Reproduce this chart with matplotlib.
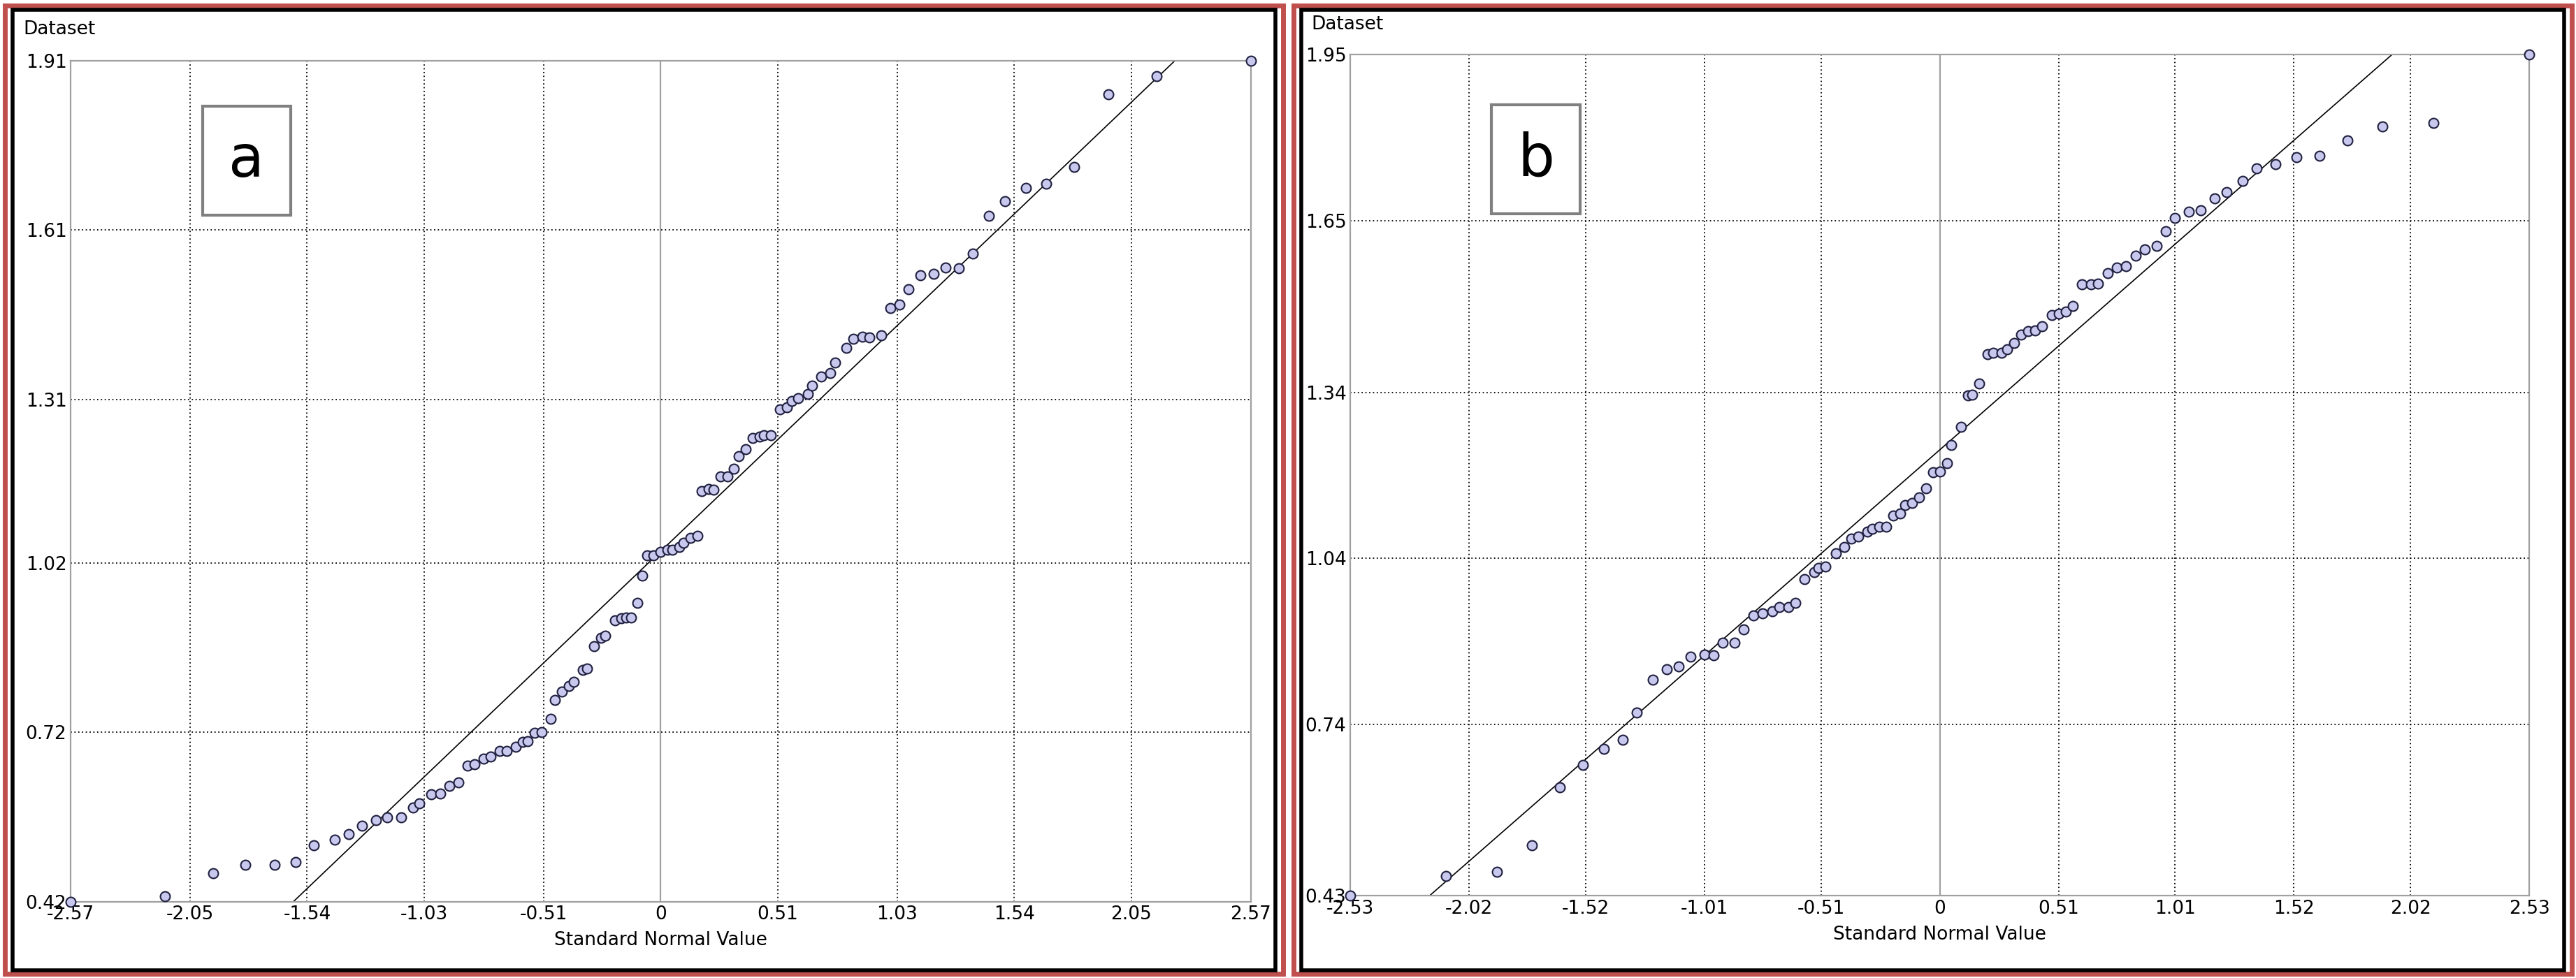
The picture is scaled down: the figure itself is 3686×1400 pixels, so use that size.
import matplotlib
matplotlib.use("Agg")
import matplotlib.pyplot as plt
from matplotlib.patches import Rectangle

# Panel a data
a_x = [-2.57,-2.16,-1.95,-1.81,-1.68,-1.59,-1.51,-1.42,-1.36,-1.30,-1.24,-1.19,-1.13,-1.08,-1.05,-1.00,-0.96,-0.92,-0.88,-0.84,
       -0.81,-0.77,-0.74,-0.70,-0.67,-0.63,-0.60,-0.58,-0.55,-0.52,-0.48,-0.46,-0.43,-0.40,-0.38,-0.34,-0.32,-0.29,-0.26,-0.24,
       -0.20,-0.17,-0.15,-0.13,-0.10,-0.08,-0.06,-0.03,0.00,0.03,0.05,0.08,0.10,0.13,0.16,0.18,0.21,0.23,0.26,0.29,
       0.32,0.34,0.37,0.40,0.43,0.45,0.48,0.52,0.55,0.57,0.60,0.64,0.66,0.70,0.74,0.76,0.81,0.84,0.88,0.91,
       0.96,1.00,1.04,1.08,1.13,1.19,1.24,1.30,1.36,1.43,1.50,1.59,1.68,1.80,1.95,2.16,2.57]
a_y = [0.42,0.43,0.47,0.485,0.485,0.49,0.52,0.53,0.54,0.555,0.565,0.57,0.57,0.587,0.594,0.61,0.612,0.625,0.631,0.661,
       0.663,0.673,0.677,0.687,0.687,0.694,0.703,0.705,0.719,0.72,0.744,0.777,0.792,0.802,0.809,0.831,0.833,0.873,0.888,0.891,
       0.919,0.922,0.923,0.923,0.95,0.998,1.033,1.034,1.04,1.044,1.043,1.048,1.056,1.065,1.068,1.148,1.151,1.150,1.174,1.174,
       1.187,1.209,1.222,1.241,1.244,1.246,1.246,1.292,1.296,1.307,1.312,1.319,1.334,1.35,1.356,1.375,1.401,1.417,1.421,1.42,
       1.423,1.472,1.478,1.505,1.53,1.532,1.543,1.542,1.568,1.635,1.661,1.684,1.692,1.722,1.85,1.883,1.91]
a_line_x = [-1.60, 2.24]
a_line_y = [0.42, 1.91]
a_xticks = [-2.57,-2.05,-1.54,-1.03,-0.51,0,0.51,1.03,1.54,2.05,2.57]
a_xlabels = ["-2.57","-2.05","-1.54","-1.03","-0.51","0","0.51","1.03","1.54","2.05","2.57"]
a_yticks = [0.42,0.72,1.02,1.31,1.61,1.91]
a_ylabels = ["0.42","0.72","1.02","1.31","1.61","1.91"]

# Panel b data
b_x = [-2.53,-2.12,-1.90,-1.75,-1.63,-1.53,-1.44,-1.36,-1.30,-1.23,-1.17,-1.12,-1.07,-1.01,-0.97,-0.93,-0.88,-0.84,-0.80,-0.76,
       -0.72,-0.69,-0.65,-0.62,-0.58,-0.54,-0.52,-0.49,-0.445,-0.41,-0.38,-0.35,-0.31,-0.29,-0.26,-0.23,-0.20,-0.17,-0.15,-0.12,
       -0.09,-0.06,-0.03,0.00,0.03,0.05,0.09,0.12,0.14,0.17,0.205,0.23,0.265,0.29,0.32,0.35,0.38,0.41,0.44,0.48,
       0.51,0.54,0.57,0.61,0.65,0.68,0.72,0.76,0.80,0.84,0.88,0.93,0.97,1.01,1.07,1.12,1.18,1.23,1.30,1.36,
       1.44,1.53,1.63,1.75,1.90,2.12,2.53]
b_y = [0.43,0.466,0.473,0.521,0.626,0.667,0.696,0.712,0.761,0.82,0.839,0.845,0.862,0.866,0.865,0.887,0.887,0.911,0.937,0.94,
       0.944,0.952,0.952,0.96,1.002,1.015,1.022,1.025,1.049,1.061,1.076,1.079,1.088,1.093,1.097,1.097,1.117,1.121,1.136,1.14,
       1.15,1.166,1.195,1.197,1.212,1.245,1.277,1.334,1.336,1.356,1.409,1.411,1.411,1.418,1.429,1.444,1.451,1.452,1.459,1.48,
       1.482,1.486,1.496,1.535,1.535,1.537,1.555,1.565,1.568,1.587,1.598,1.604,1.631,1.655,1.666,1.669,1.69,1.702,1.722,1.745,
       1.752,1.765,1.767,1.795,1.82,1.827,1.95]
b_line_x = [-2.19, 1.94]
b_line_y = [0.43, 1.95]
b_xticks = [-2.53,-2.02,-1.52,-1.01,-0.51,0,0.51,1.01,1.52,2.02,2.53]
b_xlabels = ["-2.53","-2.02","-1.52","-1.01","-0.51","0","0.51","1.01","1.52","2.02","2.53"]
b_yticks = [0.43,0.74,1.04,1.34,1.65,1.95]
b_ylabels = ["0.43","0.74","1.04","1.34","1.65","1.95"]

fig = plt.figure(figsize=(36.87, 14), dpi=100)
fig.patch.set_facecolor("white")

# panel frames
fig.add_artist(Rectangle((0.002, 0.004), 0.496, 0.99, transform=fig.transFigure, fill=False,
                         edgecolor="#c0504d", linewidth=5))
fig.add_artist(Rectangle((0.005, 0.008), 0.49, 0.982, transform=fig.transFigure, fill=False,
                         edgecolor="black", linewidth=4))
fig.add_artist(Rectangle((0.502, 0.004), 0.496, 0.99, transform=fig.transFigure, fill=False,
                         edgecolor="#c0504d", linewidth=5))
fig.add_artist(Rectangle((0.505, 0.008), 0.49, 0.982, transform=fig.transFigure, fill=False,
                         edgecolor="black", linewidth=4))

def panel(rect, x, y, lx, ly, xt, xl, yt, yl, letter, dpos, lpos):
    ax = fig.add_axes(rect)
    ax.set_xlim(xt[0], xt[-1])
    ax.set_ylim(yt[0], yt[-1])
    ax.set_xticks(xt)
    ax.set_xticklabels(xl)
    ax.set_yticks(yt)
    ax.set_yticklabels(yl)
    ax.tick_params(length=0, labelsize=19, pad=4)
    for v in xt[1:-1]:
        if v == 0:
            ax.axvline(v, color="#a0a0a0", lw=1.6, zorder=1)
        else:
            ax.axvline(v, color="black", lw=1.3, ls=(0, (1, 2)), zorder=1)
    for v in yt[1:-1]:
        ax.axhline(v, color="black", lw=1.3, ls=(0, (1, 2)), zorder=1)
    for s in ax.spines.values():
        s.set_color("#a0a0a0")
        s.set_linewidth(1.6)
    ax.plot(lx, ly, color="black", lw=1.2, zorder=2)
    ax.plot(x, y, "o", ms=10, mfc="#c8c8ee", mec="#202040", mew=1.5, zorder=3, clip_on=False)
    ax.set_xlabel("Standard Normal Value", fontsize=19, labelpad=8)
    fig.text(dpos[0], dpos[1], "Dataset", fontsize=19, ha="left", va="center")
    fig.text(lpos[0], lpos[1], letter, fontsize=60, ha="center", va="center",
             bbox=dict(boxstyle="square,pad=0.45", fc="white", ec="#808080", lw=3))
    return ax

panel([0.0274, 0.078, 0.458, 0.86], a_x, a_y, a_line_x, a_line_y,
      a_xticks, a_xlabels, a_yticks, a_ylabels, "a", (0.009, 0.97), (0.0957, 0.836))
panel([0.524, 0.084, 0.4576, 0.860], b_x, b_y, b_line_x, b_line_y,
      b_xticks, b_xlabels, b_yticks, b_ylabels, "b", (0.509, 0.975), (0.596, 0.837))

fig.savefig("out.png", dpi=100)
